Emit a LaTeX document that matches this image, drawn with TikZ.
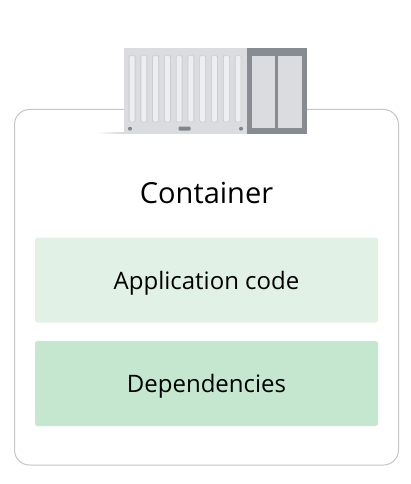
\documentclass[tikz,border=0pt]{standalone}
\usepackage{fontspec}
\setmainfont{Open Sans}
\definecolor{cardline}{HTML}{C4C6C9}
\definecolor{apptint}{HTML}{E2F1E5}
\definecolor{deptint}{HTML}{C5E6CF}
\definecolor{bodygrey}{HTML}{DADCE0}
\definecolor{ribgrey}{HTML}{EDEEF0}
\definecolor{framegrey}{HTML}{868C92}
\definecolor{doorgrey}{HTML}{DADCE0}
\definecolor{dotgrey}{HTML}{80868B}
\usetikzlibrary{fadings}
\tikzfading[name=shadowfade,left color=transparent!100,right color=transparent!0]
\tikzset{
  x=1pt,y=-1pt,
  card/.style={draw=cardline,line width=1pt,fill=white,rounded corners=15pt},
  band/.style={rounded corners=2.5pt,minimum width=343pt,minimum height=85pt,inner sep=0pt,font=\fontsize{24}{28}\selectfont,text=black},
  rib/.style={fill=ribgrey,rounded corners=1pt},
  ribshade/.style={fill=black!7!bodygrey,rounded corners=1pt},
  door/.style={fill=doorgrey},
  stud/.style={circle,fill=dotgrey,minimum size=4pt,inner sep=0pt},
}
\begin{document}
\begin{tikzpicture}
\useasboundingbox (0,0) rectangle (411,484);
\fill[white] (0,0) rectangle (411,484);
\path[card] (14.5,109.5) rectangle (398.5,465);
\node[band,fill=apptint] (app) at (206.5,280) {\raisebox{-9pt}[0pt][0pt]{Application code}};
\node[band,fill=deptint] (dep) at (206.5,383.5) {\raisebox{-9pt}[0pt][0pt]{Dependencies}};
\node[font=\fontsize{29}{34}\selectfont,text=black] (title) at (206.5,193) {Container};
% container shadow
\fill[black!16,path fading=shadowfade] (96,132) rectangle (124,134);
% body
\fill[bodygrey] (123.5,48.5) rectangle (247,134);
\foreach \i in {0,...,9}{
  \pgfmathsetmacro{\xx}{128.7+\i*11.77}
  \fill[ribshade] (\xx,55.5) rectangle ++(6.8,66.5);
  \fill[rib] (\xx+0.9,56) rectangle ++(5,65.5);
}
\node[stud] (studa) at (130,128.7) {};
\node[stud] (studb) at (241,128.7) {};
\fill[dotgrey,rounded corners=1pt] (178.5,126.7) rectangle (190.5,130.7);
% door
\fill[framegrey] (246.7,48.5) rectangle (306.7,134);
\fill[door] (251.7,55.7) rectangle (275,128.3);
\fill[door] (277.7,55.7) rectangle (301.7,128.3);
\end{tikzpicture}
\end{document}
